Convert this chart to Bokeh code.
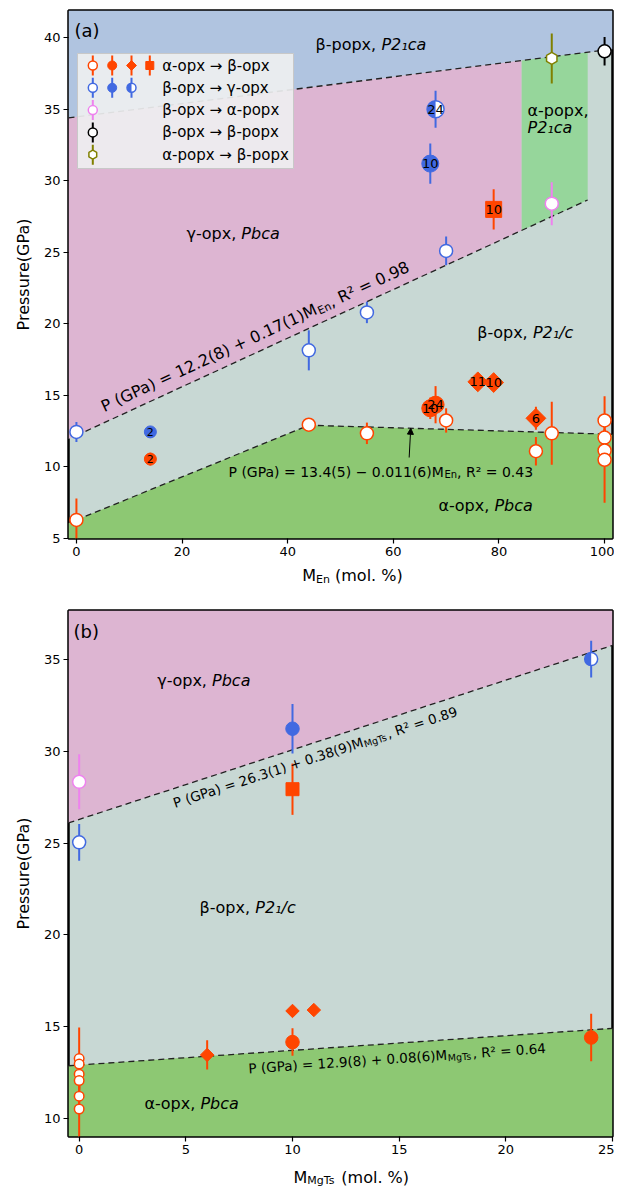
import math
import numpy as np
from bokeh.plotting import figure
from bokeh.layouts import column
from bokeh.models import Range1d, Label, Arrow, NormalHead, FixedTicker
from bokeh.embed import file_html
from bokeh.resources import INLINE
from bokeh.core.properties import value

FONT = "DejaVu Sans"

# marker colours
C_OR = "#ff4500"
C_BL = "#4169e1"
C_PK = "#ee82ee"
C_BK = "#000000"
C_OL = "#808000"
# field colours
R_GRAY = "#c8d8d4"
R_PINK = "#ddb5d2"
R_BLUE = "#b0c4e0"
R_GREEN = "#8dc873"
R_GREEN2 = "#96d69b"

# ---------------- panel (a): x = M_En (mol. %), y = P (GPa) ----------------
a_ab_open_men = [0, 44, 55, 70, 87, 90, 100, 100, 100, 100]
a_ab_open_p = [6.3, 12.95, 12.35, 13.25, 11.1, 12.35, 13.25, 12.05, 11.15, 10.5]
a_ab_open_err = [1.5, 0.0, 0.75, 0.85, 1.0, 2.2, 1.7, 0.6, 0.6, 3.0]

a_ab_fill_men = [14, 67, 68]
a_ab_fill_p = [10.55, 14.1, 14.35]
a_ab_fill_err = [0.45, 0.75, 1.3]
a_ab_fill_lab = ["2", "10", "24"]

a_ab_dia_men = [76, 79, 87]
a_ab_dia_p = [15.95, 15.9, 13.4]
a_ab_dia_err = [0.0, 0.0, 0.8]
a_ab_dia_lab = ["11", "10", "6"]

a_ab_sq_men = [79]
a_ab_sq_p = [28.0]
a_ab_sq_err = [1.4]
a_ab_sq_lab = ["10"]

a_bg_open_men = [0, 44, 55, 70]
a_bg_open_p = [12.45, 18.15, 20.8, 25.1]
a_bg_open_err = [0.7, 1.4, 0.75, 1.0]

a_bg_fill_men = [14, 67]
a_bg_fill_p = [12.45, 31.2]
a_bg_fill_err = [0.3, 1.4]
a_bg_fill_lab = ["2", "10"]

a_bg_half_men = [68]
a_bg_half_p = [35.0]
a_bg_half_err = [1.3]
a_bg_half_lab = ["24"]

a_ba_men = [90]
a_ba_p = [28.4]
a_ba_err = [1.5]

a_bb_men = [100]
a_bb_p = [39.05]
a_bb_err = [1.0]

a_pp_men = [90]
a_pp_p = [38.55]
a_pp_err = [1.75]

# boundaries (a)
a_gamma_fit = [12.2, 0.17]          # P = 12.2 + 0.17 M_En
a_alpha_fit = [13.4, -0.011]        # P = 13.4 - 0.011 M_En
a_alpha_low_men = [0, 44]           # low-En segment of alpha/beta boundary
a_alpha_low_p = [6.3, 12.92]
a_popx_line = [34.47, 0.0466]       # beta-popx boundary
a_apopx_men = [84.3, 96.8]          # alpha-popx field limits

# ---------------- panel (b): x = M_MgTs (mol. %) ----------------
b_ab_open_mgts = [0, 0, 0, 0, 0, 0]
b_ab_open_p = [13.25, 12.95, 12.4, 12.05, 11.2, 10.5]
b_ab_open_err = [1.7, 0.0, 0.75, 0.6, 0.6, 3.0]

b_ab_dia_mgts = [6, 10, 11]
b_ab_dia_p = [13.45, 15.85, 15.9]
b_ab_dia_err = [0.8, 0.0, 0.0]

b_ab_fill_mgts = [10, 24]
b_ab_fill_p = [14.15, 14.4]
b_ab_fill_err = [0.75, 1.3]

b_ab_sq_mgts = [10]
b_ab_sq_p = [27.95]
b_ab_sq_err = [1.4]

b_bg_open_mgts = [0]
b_bg_open_p = [25.05]
b_bg_open_err = [1.0]

b_bg_fill_mgts = [10]
b_bg_fill_p = [31.25]
b_bg_fill_err = [1.35]

b_bg_half_mgts = [24]
b_bg_half_p = [35.05]
b_bg_half_err = [1.0]

b_ba_mgts = [0]
b_ba_p = [28.35]
b_ba_err = [1.5]

b_gamma_fit = [26.3, 0.38]
b_alpha_fit = [12.9, 0.08]

XA = (-1.5, 101.5)
YA = (5.0, 41.9)
XB = (-0.5, 25.0)
YB = (9.0, 37.7)

W = {" ": .318, "%": .950, "(": .390, ")": .390, ",": .318, "-": .361, ".": .318, "/": .337,
     "=": .838, "+": .838, "−": .838, "→": .838, "²": .403, "₁": .403,
     "E": .632, "G": .775, "M": .863, "P": .603, "R": .695, "T": .611,
     "a": .613, "b": .635, "c": .550, "e": .615, "g": .635, "l": .278, "m": .974, "n": .634,
     "o": .612, "p": .635, "r": .411, "s": .521, "u": .634, "x": .592,
     "α": .659, "β": .650, "γ": .592}
for d in "0123456789":
    W[d] = .636


def tw(s, size):
    return sum(W.get(ch, 0.6) for ch in s) * size


class Panel:
    def __init__(self, p, xr, yr, left, top, fw, fh):
        self.p, self.xr, self.yr = p, xr, yr
        self.left, self.bottom, self.fw, self.fh = left, top + fh, fw, fh
        self.kx = fw / (xr[1] - xr[0])
        self.ky = fh / (yr[1] - yr[0])

    def f2d(self, sx, sy):
        return self.xr[0] + sx / self.kx, self.yr[0] + sy / self.ky

    def d2f(self, x, y):
        return (x - self.xr[0]) * self.kx, (y - self.yr[0]) * self.ky

    def pg(self, px, py):
        return px - self.left, self.bottom - py

    def label(self, sx, sy, text, size, italic=False, angle=0.0, baseline="alphabetic"):
        x, y = self.f2d(sx, sy)
        self.p.add_layout(Label(x=x, y=y, text=text, angle=angle, text_font=FONT,
                                text_font_size=f"{size}px",
                                text_font_style="italic" if italic else "normal",
                                text_align="left", text_baseline=baseline, text_color="black"))

    def segs(self, sx, sy, segs, angle=0.0):
        ca, sa = math.cos(angle), math.sin(angle)
        adv = 0.0
        for text, size, italic, shift in segs:
            x = sx + adv * ca + shift * sa
            y = sy + adv * sa - shift * ca
            self.label(x, y, text, size, italic, angle)
            adv += tw(text, size)


FIG_W = 614
FRAME_L = 68
FRAME_W = 544
FRAME_R = FIG_W - FRAME_L - FRAME_W


def make_fig(xr, yr, top, fh, bottom, xticks, yticks):
    p = figure(width=FIG_W, height=top + fh + bottom, x_range=Range1d(*xr), y_range=Range1d(*yr),
               output_backend="svg", toolbar_location=None,
               min_border_left=FRAME_L, min_border_right=FRAME_R,
               min_border_top=top, min_border_bottom=bottom)
    p.background_fill_color = R_GRAY
    p.border_fill_color = "white"
    p.outline_line_color = "black"
    p.outline_line_width = 2.5
    p.grid.visible = False
    p.xaxis.ticker = FixedTicker(ticks=xticks)
    p.yaxis.ticker = FixedTicker(ticks=yticks)
    for ax in (p.xaxis, p.yaxis):
        ax.axis_line_color = None
        ax.major_tick_line_color = "black"
        ax.major_tick_line_width = 1.2
        ax.major_tick_in = 0
        ax.major_tick_out = 5
        ax.minor_tick_line_color = None
        ax.major_label_text_font = FONT
        ax.major_label_text_font_size = "13px"
        ax.major_label_text_color = "black"
        ax.major_label_standoff = 3
    p.yaxis.axis_label = "Pressure(GPa)"
    p.yaxis.axis_label_text_font = FONT
    p.yaxis.axis_label_text_font_size = "16px"
    p.yaxis.axis_label_text_font_style = "normal"
    p.yaxis.axis_label_text_color = "black"
    p.yaxis.axis_label_standoff = 8
    return p


def label_strip(page_top, h, segs, px, py):
    """A text-only strip below a panel; data coords == page pixel coords."""
    f = figure(width=FIG_W, height=h, x_range=Range1d(FRAME_L, FRAME_L + FRAME_W),
               y_range=Range1d(page_top + h, page_top),
               output_backend="svg", toolbar_location=None,
               min_border_left=FRAME_L, min_border_right=FRAME_R,
               min_border_top=0, min_border_bottom=0,
               x_axis_type=None, y_axis_type=None)
    f.outline_line_color = None
    f.grid.visible = False
    f.background_fill_color = "white"
    f.border_fill_color = "white"
    adv = 0.0
    for text, size, italic, shift in segs:
        f.add_layout(Label(x=px + adv, y=py + shift, text=text, text_font=FONT,
                           text_font_size=f"{size}px",
                           text_font_style="italic" if italic else "normal",
                           text_align="left", text_baseline="alphabetic", text_color="black"))
        adv += tw(text, size)
    return f


def errbars(p, x, y, e, color, lw=2.0):
    x = np.asarray(x, float)
    y = np.asarray(y, float)
    e = np.asarray(e, float)
    p.segment(x0=x, y0=y - e, x1=x, y1=y + e, line_color=color, line_width=lw)


def openpts(p, x, y, color, size, marker="circle", angle=0.0):
    p.scatter(x=x, y=y, marker=marker, size=size, angle=angle, fill_color="white",
              line_color=color, line_width=1.5)


def fillpts(p, x, y, color, size, marker="circle", angle=0.0):
    p.scatter(x=x, y=y, marker=marker, size=size, angle=angle, fill_color=color,
              line_color=color, line_width=1.0)


def halfpts(p, x, y, color, size):
    p.scatter(x=x, y=y, marker="circle", size=size, fill_color="white", line_color=None)
    p.wedge(x=x, y=y, radius=size / 2.0, radius_units="screen", start_angle=math.pi / 2,
            end_angle=3 * math.pi / 2, fill_color=color, line_color=None)
    p.scatter(x=x, y=y, marker="circle", size=size, fill_color=None, line_color=color,
              line_width=1.5)


def numbers(p, x, y, labs, size="13px"):
    p.text(x=x, y=y, text=labs, text_font=value(FONT), text_font_size=size,
           text_align="center", text_baseline="middle", text_color="black")


DIA = math.pi / 4
HEXA = math.pi / 2
DASH = "6 4"

# ============================ panel (a) ============================
A_TOP, A_FH, A_BOT = 10, 528, 24
pa = make_fig(XA, YA, A_TOP, A_FH, A_BOT, [0, 20, 40, 60, 80, 100], [5, 10, 15, 20, 25, 30, 35, 40])
A = Panel(pa, XA, YA, FRAME_L, A_TOP, FRAME_W, A_FH)

xl, xr = XA


def top_a(m):
    return a_popx_line[0] + a_popx_line[1] * m


def gam_a(m):
    return a_gamma_fit[0] + a_gamma_fit[1] * m


def alp_a(m):
    return a_alpha_fit[0] + a_alpha_fit[1] * m


m0, m1 = a_apopx_men
pa.patch([xl, xr, xr, xl], [top_a(xl), top_a(xr), YA[1], YA[1]], color=R_BLUE, line_color=None)
pa.patch([xl, m0, m0, xl], [gam_a(xl), gam_a(m0), top_a(m0), top_a(xl)], color=R_PINK, line_color=None)
pa.patch([m0, m1, m1, m0], [gam_a(m0), gam_a(m1), top_a(m1), top_a(m0)], color=R_GREEN2, line_color=None)
low_slope = (a_alpha_low_p[1] - a_alpha_low_p[0]) / (a_alpha_low_men[1] - a_alpha_low_men[0])
low_left = a_alpha_low_p[0] + low_slope * (xl - a_alpha_low_men[0])
low_x = [xl, a_alpha_low_men[0], a_alpha_low_men[1], xr]
low_y = [low_left, a_alpha_low_p[0], alp_a(a_alpha_low_men[1]), alp_a(xr)]
pa.patch(low_x + [xr, xl], low_y + [YA[0], YA[0]], color=R_GREEN, line_color=None)

pa.line([xl, xr], [top_a(xl), top_a(xr)], line_color="#222222", line_width=1.3, line_dash=DASH)
pa.line([0, m1], [gam_a(0), gam_a(m1)], line_color="#222222", line_width=1.3, line_dash=DASH)
pa.line(low_x[1:], low_y[1:], line_color="#222222", line_width=1.3, line_dash=DASH)

errbars(pa, a_ab_open_men, a_ab_open_p, a_ab_open_err, C_OR)
errbars(pa, a_ab_fill_men, a_ab_fill_p, a_ab_fill_err, C_OR)
errbars(pa, a_ab_dia_men, a_ab_dia_p, a_ab_dia_err, C_OR)
errbars(pa, a_ab_sq_men, a_ab_sq_p, a_ab_sq_err, C_OR)
errbars(pa, a_bg_open_men, a_bg_open_p, a_bg_open_err, C_BL)
errbars(pa, a_bg_fill_men, a_bg_fill_p, a_bg_fill_err, C_BL)
errbars(pa, a_bg_half_men, a_bg_half_p, a_bg_half_err, C_BL)
errbars(pa, a_ba_men, a_ba_p, a_ba_err, C_PK)
errbars(pa, a_bb_men, a_bb_p, a_bb_err, C_BK)
errbars(pa, a_pp_men, a_pp_p, a_pp_err, C_OL)

openpts(pa, a_ab_open_men, a_ab_open_p, C_OR, 13)
openpts(pa, a_bg_open_men, a_bg_open_p, C_BL, 13)
openpts(pa, a_ba_men, a_ba_p, C_PK, 13)
openpts(pa, a_bb_men, a_bb_p, C_BK, 13)
openpts(pa, a_pp_men, a_pp_p, C_OL, 12, marker="hex", angle=HEXA)

fillpts(pa, a_ab_fill_men[:1], a_ab_fill_p[:1], C_OR, 12)
fillpts(pa, a_ab_fill_men[1:], a_ab_fill_p[1:], C_OR, 17)
fillpts(pa, a_bg_fill_men[:1], a_bg_fill_p[:1], C_BL, 12)
fillpts(pa, a_bg_fill_men[1:], a_bg_fill_p[1:], C_BL, 17)
halfpts(pa, a_bg_half_men, a_bg_half_p, C_BL, 17)
fillpts(pa, a_ab_dia_men, a_ab_dia_p, C_OR, 14, marker="square", angle=DIA)
fillpts(pa, a_ab_sq_men, a_ab_sq_p, C_OR, 16, marker="square")

numbers(pa, a_ab_fill_men[:1], a_ab_fill_p[:1], a_ab_fill_lab[:1], "11px")
numbers(pa, a_bg_fill_men[:1], a_bg_fill_p[:1], a_bg_fill_lab[:1], "11px")
numbers(pa, a_ab_fill_men[1:], a_ab_fill_p[1:], a_ab_fill_lab[1:])
numbers(pa, a_bg_fill_men[1:], a_bg_fill_p[1:], a_bg_fill_lab[1:])
numbers(pa, a_bg_half_men, a_bg_half_p, a_bg_half_lab)
numbers(pa, a_ab_dia_men, a_ab_dia_p, a_ab_dia_lab)
numbers(pa, a_ab_sq_men, a_ab_sq_p, a_ab_sq_lab)

# legend (a)
lx0, ly0 = A.f2d(*A.pg(77, 168))
lx1, ly1 = A.f2d(*A.pg(293, 53))
pa.quad(left=[lx0], right=[lx1], bottom=[ly0], top=[ly1], fill_color="#eeeff0", fill_alpha=0.92,
        line_color="#c8c8c8", line_width=1)
rows_y = [65.0 + 22.3 * i for i in range(5)]
cols_x = [92.3, 111.7, 131.0, 149.3]
leg_entries = [
    [("circle_open", C_OR), ("circle", C_OR), ("diamond", C_OR), ("square", C_OR)],
    [("circle_open", C_BL), ("circle", C_BL), ("half", C_BL)],
    [("circle_open", C_PK)],
    [("circle_open", C_BK)],
    [("hex_open", C_OL)],
]
leg_texts = ["α-opx → β-opx", "β-opx → γ-opx", "β-opx → α-popx", "β-opx → β-popx", "α-popx → β-popx"]
for r, (entries, txt) in enumerate(zip(leg_entries, leg_texts)):
    py = rows_y[r]
    for c, (kind, col) in enumerate(entries):
        px = cols_x[c]
        x, y = A.f2d(*A.pg(px, py))
        _, yt = A.f2d(*A.pg(px, py - 10))
        _, yb = A.f2d(*A.pg(px, py + 10))
        pa.segment(x0=[x], y0=[yb], x1=[x], y1=[yt], line_color=col, line_width=2)
        if kind == "circle_open":
            openpts(pa, [x], [y], col, 9)
        elif kind == "circle":
            fillpts(pa, [x], [y], col, 9)
        elif kind == "diamond":
            fillpts(pa, [x], [y], col, 7, marker="square", angle=DIA)
        elif kind == "square":
            fillpts(pa, [x], [y], col, 8, marker="square")
        elif kind == "half":
            halfpts(pa, [x], [y], col, 9)
        elif kind == "hex_open":
            openpts(pa, [x], [y], col, 9, marker="hex", angle=HEXA)
    sx, sy = A.pg(161.7, py)
    A.label(sx, sy, txt, 15, baseline="middle")

# texts (a)
A.label(*A.pg(74, 30), "(a)", 18)
A.segs(*A.pg(315, 44), [("β-popx, ", 16, False, 0), ("P2₁ca", 16, True, 0)])
A.label(*A.pg(527, 110), "α-popx,", 16)
A.label(*A.pg(527, 127), "P2₁ca", 16, italic=True)
A.segs(*A.pg(186, 233), [("γ-opx, ", 16, False, 0), ("Pbca", 16, True, 0)])
A.segs(*A.pg(476.7, 332), [("β-opx, ", 16, False, 0), ("P2₁/c", 16, True, 0)])
A.segs(*A.pg(438, 505), [("α-opx, ", 16, False, 0), ("Pbca", 16, True, 0)])

ang_a = math.atan(a_gamma_fit[1] * A.ky / A.kx)
m_s = 6.0
sx, sy = A.d2f(m_s, gam_a(m_s))
off = 15.0
A.segs(sx - off * math.sin(ang_a), sy + off * math.cos(ang_a),
       [("P (GPa) = 12.2(8) + 0.17(1)M", 16, False, 0), ("En", 11, False, 3.5),
        (", R² = 0.98", 16, False, 0)], angle=ang_a)

A.segs(*A.pg(228, 471), [("P (GPa) = 13.4(5) − 0.011(6)M", 14, False, 0), ("En", 10, False, 3),
                         (", R² = 0.43", 14, False, 0)])
arr_x = 63.3
ax0, ay0 = A.f2d(*A.pg(0, 457))
pa.add_layout(Arrow(end=NormalHead(size=6, fill_color="black", line_color="black", line_width=1),
                    x_start=arr_x - 0.3, y_start=ay0, x_end=arr_x, y_end=alp_a(arr_x),
                    line_color="black", line_width=1))

A_H = A_TOP + A_FH + A_BOT
LA_H = 26
la = label_strip(A_H, LA_H, [("M", 16, False, 0), ("En", 11, False, 3.5), ("\u00a0(mol. %)", 16, False, 0)],
                 301.7, 575)

# ============================ panel (b) ============================
B_PAGE_TOP = A_H + LA_H
B_FT, B_FH, B_BOT = 610, 526, 24
B_TOP = B_FT - B_PAGE_TOP
pb = make_fig(XB, YB, B_TOP, B_FH, B_BOT, [0, 5, 10, 15, 20, 25], [10, 15, 20, 25, 30, 35])
B = Panel(pb, XB, YB, FRAME_L, B_FT, FRAME_W, B_FH)
bl, br = XB


def gam_b(m):
    return b_gamma_fit[0] + b_gamma_fit[1] * m


def alp_b(m):
    return b_alpha_fit[0] + b_alpha_fit[1] * m


pb.patch([bl, br, br, bl], [gam_b(bl), gam_b(br), YB[1], YB[1]], color=R_PINK, line_color=None)
pb.patch([bl, br, br, bl], [alp_b(bl), alp_b(br), YB[0], YB[0]], color=R_GREEN, line_color=None)
pb.line([bl, br], [gam_b(bl), gam_b(br)], line_color="#222222", line_width=1.3, line_dash=DASH)
pb.line([bl, br], [alp_b(bl), alp_b(br)], line_color="#222222", line_width=1.3, line_dash=DASH)

errbars(pb, b_ab_open_mgts, b_ab_open_p, b_ab_open_err, C_OR)
errbars(pb, b_ab_dia_mgts, b_ab_dia_p, b_ab_dia_err, C_OR)
errbars(pb, b_ab_fill_mgts, b_ab_fill_p, b_ab_fill_err, C_OR)
errbars(pb, b_ab_sq_mgts, b_ab_sq_p, b_ab_sq_err, C_OR)
errbars(pb, b_bg_open_mgts, b_bg_open_p, b_bg_open_err, C_BL)
errbars(pb, b_bg_fill_mgts, b_bg_fill_p, b_bg_fill_err, C_BL)
errbars(pb, b_bg_half_mgts, b_bg_half_p, b_bg_half_err, C_BL)
errbars(pb, b_ba_mgts, b_ba_p, b_ba_err, C_PK)

openpts(pb, b_ab_open_mgts, b_ab_open_p, C_OR, 9.5)
openpts(pb, b_bg_open_mgts, b_bg_open_p, C_BL, 13)
openpts(pb, b_ba_mgts, b_ba_p, C_PK, 13)
fillpts(pb, b_ab_dia_mgts, b_ab_dia_p, C_OR, 9.5, marker="square", angle=DIA)
fillpts(pb, b_ab_fill_mgts, b_ab_fill_p, C_OR, 13.5)
fillpts(pb, b_ab_sq_mgts, b_ab_sq_p, C_OR, 13, marker="square")
fillpts(pb, b_bg_fill_mgts, b_bg_fill_p, C_BL, 13.5)
halfpts(pb, b_bg_half_mgts, b_bg_half_p, C_BL, 13)

B.label(*B.pg(73, 631), "(b)", 18)
B.segs(*B.pg(156.7, 680), [("γ-opx, ", 16, False, 0), ("Pbca", 16, True, 0)])
B.segs(*B.pg(199, 907), [("β-opx, ", 16, False, 0), ("P2₁/c", 16, True, 0)])
B.segs(*B.pg(144, 1103), [("α-opx, ", 16, False, 0), ("Pbca", 16, True, 0)])

ang_bg = math.atan(b_gamma_fit[1] * B.ky / B.kx)
m_s = 4.22
sx, sy = B.d2f(m_s, gam_b(m_s))
off = -14.0
B.segs(sx - off * math.sin(ang_bg), sy + off * math.cos(ang_bg),
       [("P (GPa) = 26.3(1) + 0.38(9)M", 13.5, False, 0), ("MgTs", 9.5, False, 3),
        (", R² = 0.89", 13.5, False, 0)], angle=ang_bg)

ang_ba = math.atan(b_alpha_fit[1] * B.ky / B.kx)
m_s = 7.89
sx, sy = B.d2f(m_s, alp_b(m_s))
off = -15.0
B.segs(sx - off * math.sin(ang_ba), sy + off * math.cos(ang_ba),
       [("P (GPa) = 12.9(8) + 0.08(6)M", 13.5, False, 0), ("MgTs", 9.5, False, 3),
        (", R² = 0.64", 13.5, False, 0)], angle=ang_ba)

B_H = B_TOP + B_FH + B_BOT
LB_PAGE_TOP = B_PAGE_TOP + B_H
LB_H = 1186 - LB_PAGE_TOP
lb = label_strip(LB_PAGE_TOP, LB_H, [("M", 16, False, 0), ("MgTs", 11, False, 3),
                                     ("\u00a0(mol. %)", 16, False, 0)], 293, 1177)

layout = column(pa, la, pb, lb, spacing=0)
open("out.html", "w").write(file_html(layout, INLINE))
